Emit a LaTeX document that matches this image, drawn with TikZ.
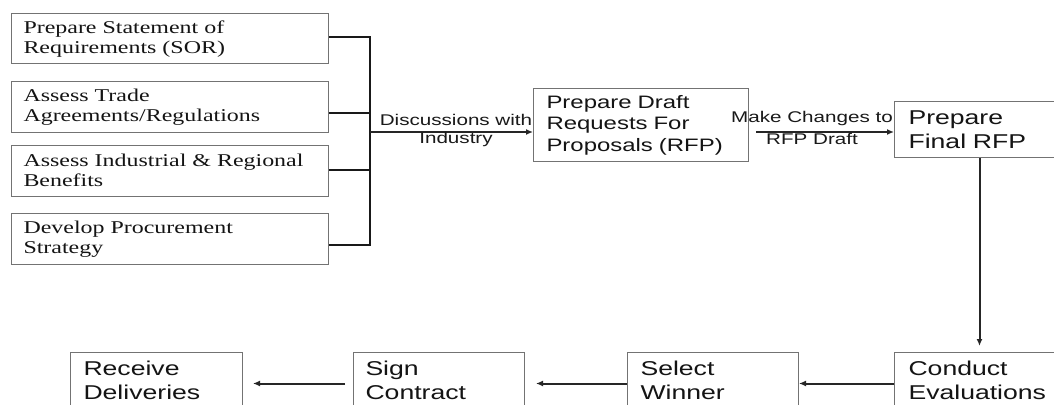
\documentclass[tikz,border=0pt]{standalone}
\usepackage{fontspec}
\setmainfont{Liberation Serif}[FakeStretch=1.33]
\newfontfamily\arialf{Liberation Sans}[FakeStretch=1.33]
\usetikzlibrary{arrows.meta}
\begin{document}
\begin{tikzpicture}[x=1pt,y=-1pt,
  boxbase/.style={draw=black!55, line width=1pt, anchor=north west, inner ysep=0pt, align=left, text=black!92},
  sbox/.style={boxbase, inner xsep=12pt, text width=293pt, minimum height=50.5pt, font=\fontsize{18}{20}\selectfont},
  dbox/.style={boxbase, inner xsep=13pt, text width=189pt, minimum height=73pt, font=\arialf\fontsize{18}{21.5}\selectfont},
  fbox/.style={boxbase, minimum height=56pt, font=\arialf\fontsize{20}{24}\selectfont},
  lab/.style={align=center, inner sep=0pt, text=black!90, font=\arialf\fontsize{15.5}{#1}\selectfont},
  conn/.style={line width=2.2pt, black!90},
  arr/.style={line width=2pt, black!85, -{Latex[length=7pt,width=6pt]}}]
\clip (0,0) rectangle (1054,404);
\fill[white] (0,0) rectangle (1054,404);

% left column
\node[sbox] (b1) at (11,13)  {Prepare Statement of\\Requirements (SOR)};
\node[sbox] (b2) at (11,81)  {Assess Trade\\Agreements/Regulations};
\node[sbox] (b3) at (11,145) {Assess Industrial \& Regional\\Benefits};
\node[sbox] (b4) at (11,213) {Develop Procurement\\Strategy};

% bus
\coordinate (j1) at (370,37);
\coordinate (j2) at (370,113);
\coordinate (j3) at (370,170.25);
\coordinate (j4) at (370,245);
\coordinate (busM) at (370,132);
\draw[conn] (b1.east |- j1) -- (j1) -- (j4) -- (b4.east |- j4);
\draw[conn] (b2.east |- j2) -- (j2);
\draw[conn] (b3.east |- j3) -- (j3);

% draft
\node[dbox] (draft) at (533,88) {Prepare Draft\\Requests For\\Proposals (RFP)};
\draw[arr] (busM) -- (draft.west |- busM);
\node[lab=18pt] (disc) at (456,130.5) {Discussions with\\Industry};

% final
\node[fbox, inner xsep=14pt, text width=142pt] (final) at (894,101) {Prepare\\Final RFP};
\coordinate (mc) at (756,132);
\draw[arr] (mc) -- (final.west |- mc);
\node[lab=22pt] (mclab) at (812,128) {Make Changes to\\RFP Draft};

% bottom row
\node[fbox, inner xsep=14pt, text width=142pt] (conduct) at (894,352) {Conduct\\Evaluations};
\node[fbox, inner xsep=13pt, text width=145pt] (select) at (627,352) {Select\\Winner};
\node[fbox, inner xsep=12pt, text width=147pt] (sign) at (353,352) {Sign\\Contract};
\node[fbox, inner xsep=13pt, text width=146pt] (receive) at (70,352) {Receive\\Deliveries};

\draw[arr] (final.south) -- ([yshift=6pt]conduct.north);
\draw[arr] ([yshift=-3pt]conduct.west) -- ([yshift=-3pt]select.east);
\draw[arr] ([yshift=-3pt]select.west) -- ([xshift=11pt,yshift=-3pt]sign.east);
\draw[arr] ([xshift=-8pt,yshift=-3pt]sign.west) -- ([xshift=10pt,yshift=-3pt]receive.east);
\end{tikzpicture}
\end{document}
